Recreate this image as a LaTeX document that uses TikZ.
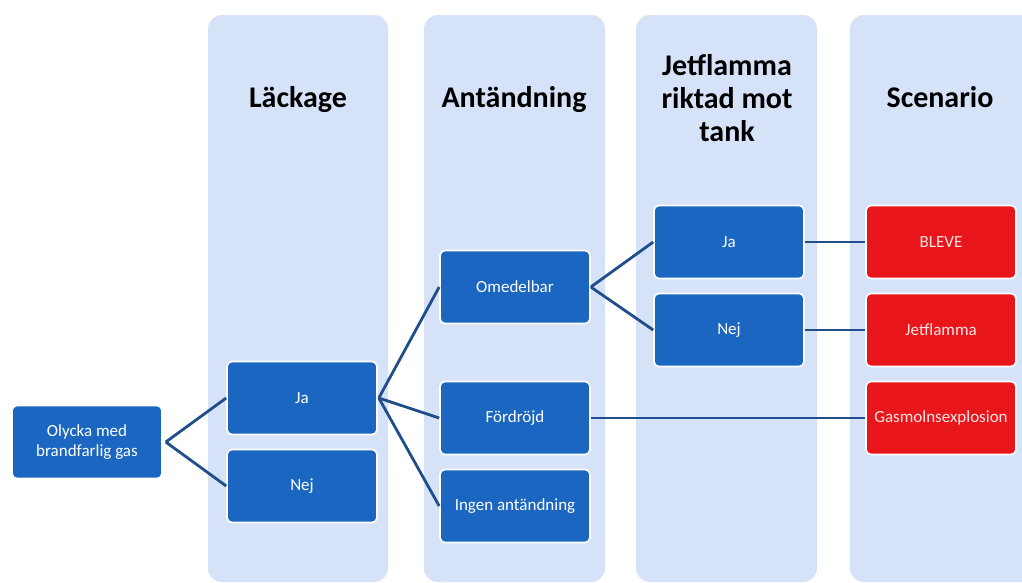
\documentclass[tikz,border=0pt]{standalone}
\usepackage{fontspec}
\setmainfont{Carlito}
\definecolor{colbg}{HTML}{D6E2F8}
\definecolor{nodeblue}{HTML}{1A66C0}
\definecolor{nodered}{HTML}{E8161B}
\definecolor{linkblue}{HTML}{1F4E8A}
\begin{document}
\begin{tikzpicture}[x=1pt,y=-1pt,
  column/.style={fill=colbg, draw=none, rounded corners=14pt},
  header/.style={font=\fontsize{30}{33}\selectfont\bfseries, align=center, text=black},
  box/.style={fill=nodeblue, draw=white, line width=1.6pt, rounded corners=5pt,
    minimum width=150pt, minimum height=73pt, text=white, align=center,
    font=\fontsize{17}{20}\selectfont, inner sep=2pt},
  redbox/.style={box, fill=nodered, text=white!90!red},
  link/.style={draw=linkblue, line width=2.8pt}]
\useasboundingbox (0,0) rectangle (1022,582);
\clip (0,0) rectangle (1022,582);
\fill[white] (0,0) rectangle (1022,582);
% columns
\path[column] (208,15) rectangle (388,582);
\path[column] (424,15) rectangle (605,582);
\path[column] (636,15) rectangle (817,582);
\path[column] (850,15) rectangle (1040,582);
% headers
\node[header] (h1) at (298,100) {Läckage};
\node[header] (h2) at (514,100) {Antändning};
\node[header] (h3) at (727,98) {Jetflamma\\riktad mot\\tank};
\node[header] (h4) at (940,97) {Scenario};
% nodes
\node[box] (start) at (87,442) {Olycka med\\brandfarlig gas};
\node[box] (ja1) at (302,398) {Ja};
\node[box] (nej1) at (302,486) {Nej};
\node[box] (omed) at (515,287) {Omedelbar};
\node[box] (ford) at (515,418) {Fördröjd};
\node[box] (ingen) at (515,506) {Ingen antändning};
\node[box] (ja2) at (729,242) {Ja};
\node[box] (nej2) at (729,330) {Nej};
\node[redbox] (bleve) at (941,242) {BLEVE};
\node[redbox] (jet) at (941,330) {Jetflamma};
\node[redbox] (gas) at (941,418) {Gasmolnsexplosion};
% connectors
\coordinate (s0) at ([xshift=3pt]start.east);
\draw[link] (s0) -- (ja1.west);
\draw[link] (s0) -- (nej1.west);
\coordinate (j0) at ([xshift=1pt]ja1.east);
\draw[link] (j0) -- (omed.west);
\draw[link] (j0) -- (ford.west);
\draw[link] (j0) -- (ingen.west);
\draw[link] (omed.east) -- (ja2.west);
\draw[link] (omed.east) -- (nej2.west);
\draw[link] (ja2.east) -- (bleve.west);
\draw[link] (nej2.east) -- (jet.west);
\draw[link] (ford.east) -- (gas.west);
\end{tikzpicture}
\end{document}
